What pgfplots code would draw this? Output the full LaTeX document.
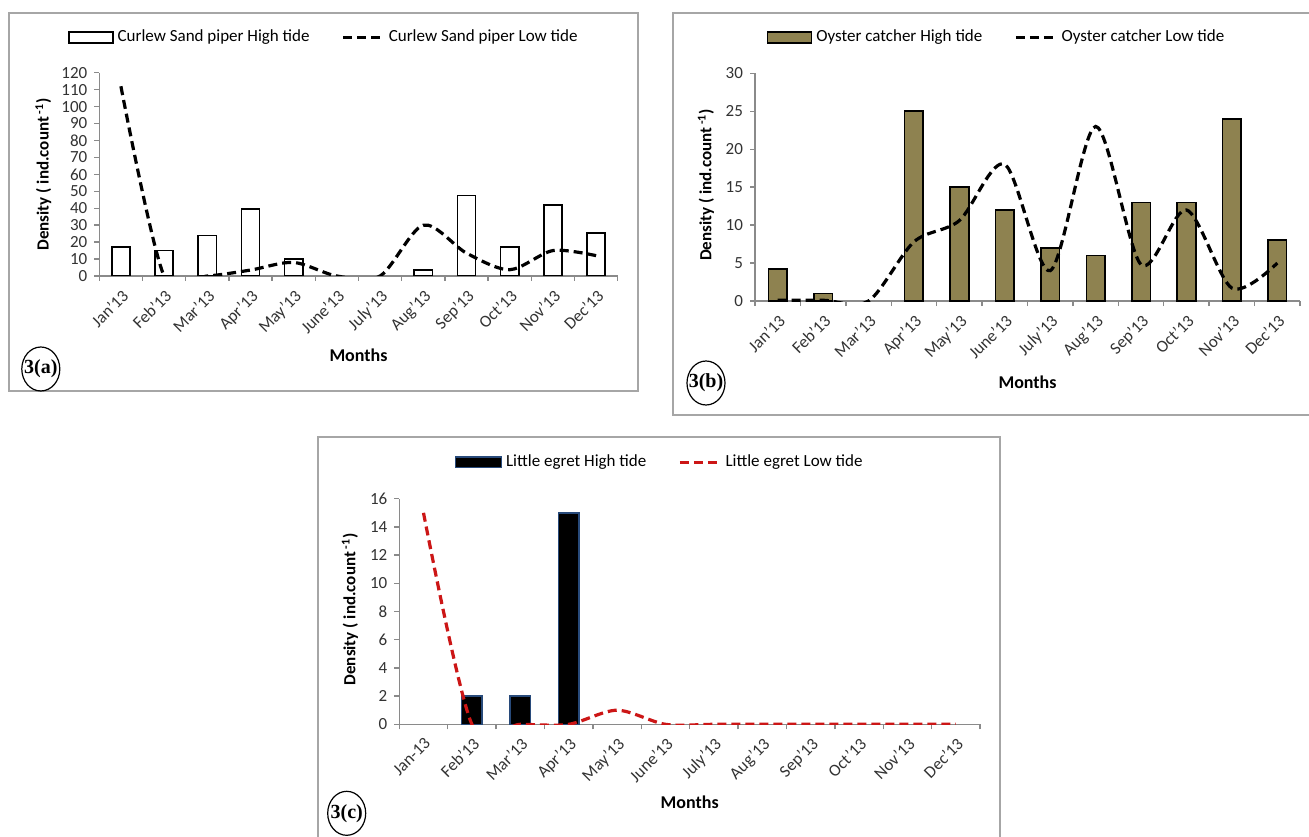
\documentclass[border=0pt]{standalone}
\usepackage{pgfplots}
\pgfplotsset{compat=1.18}
\usepackage{fontspec}
\setmainfont{Carlito}
\newfontfamily\labelfont{Liberation Serif}
\definecolor{framegray}{HTML}{A6A6A6}
\definecolor{axgray}{HTML}{8A8A8A}
\definecolor{oliveb}{HTML}{8E8250}
\definecolor{egretred}{HTML}{CC1616}
\definecolor{egretblue}{HTML}{284A7A}
\pgfplotsset{
  panel/.style={
    scale only axis,
    anchor=south west,
    axis x line*=bottom,
    axis y line*=left,
    axis line style={axgray, line width=0.7pt, -},
    xmin=-0.5, xmax=11.5,
    ymin=0,
    xtick={-0.5,0.5,...,11.5},
    x tick label as interval,
    tick align=outside,
    major tick length=2.5pt,
    tick style={axgray, line width=0.7pt},
    /pgf/number format/assume math mode=true,
    yticklabel style={font=\fontsize{8.5}{10}\selectfont, text=black!80},
    xticklabel style={font=\fontsize{8.5}{10}\selectfont, text=black!80, rotate=45, anchor=north east, inner sep=2.5pt},
    xlabel={Months},
    ylabel={Density ( ind.count\,\textsuperscript{-1})},
    xlabel style={font=\bfseries\fontsize{9}{11}\selectfont, anchor=center},
    ylabel style={font=\bfseries\fontsize{8.5}{10}\selectfont, anchor=center},
    legend columns=2,
    legend cell align=left,
    legend style={draw=none, fill=none, anchor=center, font=\fontsize{8.5}{10}\selectfont, /tikz/every even column/.append style={column sep=14pt}},
  },
}
\begin{document}
\begin{tikzpicture}
\path[use as bounding box, fill=white] (0pt,0pt) rectangle (654.5pt,418pt);
% frames
\draw[framegray, line width=1pt] (4.65pt,222.65pt) rectangle (318.85pt,411.65pt);
\draw[framegray, line width=1pt] (336.65pt,210.5pt) rectangle (662pt,411.65pt);
\draw[framegray, line width=1pt] (159.15pt,-5pt) rectangle (500pt,199.35pt);

% ---------- 3(a)
\begin{axis}[panel, at={(49.65pt,280pt)}, width=259.2pt, height=101.65pt,
  ymax=120, ytick={0,10,...,120},
  xticklabels={Jan'13,Feb'13,Mar'13,Apr'13,May'13,June'13,July'13,Aug'13,Sep'13,Oct'13,Nov'13,Dec'13,},
  xlabel style={at={(axis description cs:0.5,-0.39)}},
  ylabel style={at={(axis description cs:-0.108,0.5)}},
  legend style={at={(axis description cs:0.435,1.173)}}]
\addplot[ybar, bar width=0.42, fill=white, draw=black, line width=0.8pt,
  legend image code/.code={\draw[fill=white,draw=black,line width=0.8pt] (0pt,-2.7pt) rectangle (22pt,2.7pt);}]
  coordinates {(0,17) (1,15) (2,24) (3,39.5) (4,10) (7,3.5) (8,47.5) (9,17) (10,42) (11,25.5)};
\addlegendentry{Curlew Sand piper High tide}
\addplot[smooth, black, line width=1.6pt, dash pattern=on 4.5pt off 2.5pt,
  legend image code/.code={\draw[black,line width=1.6pt,dash pattern=on 4.5pt off 2.5pt] (0pt,0pt)--(20pt,0pt);}]
  coordinates {(0,112) (1,0) (2,0) (3,3.5) (4,8) (5,0) (6,0) (7,30) (8,13.5) (9,3.7) (10,15) (11,12)};
\addlegendentry{Curlew Sand piper Low tide}
\end{axis}

% ---------- 3(b)
\begin{axis}[panel, at={(377.5pt,267.5pt)}, width=272.5pt, height=113.85pt,
  ymax=30, ytick={0,5,...,30},
  xticklabels={Jan'13,Feb'13,Mar'13,Apr'13,May'13,June'13,July'13,Aug'13,Sep'13,Oct'13,Nov'13,Dec'13,},
  xlabel style={at={(axis description cs:0.5,-0.356)}},
  ylabel style={at={(axis description cs:-0.09,0.51)}},
  legend style={at={(axis description cs:0.445,1.157)}}]
\addplot[ybar, bar width=0.41, fill=oliveb, draw=black, line width=0.8pt,
  legend image code/.code={\draw[fill=oliveb,draw=black,line width=0.8pt] (0pt,-2.7pt) rectangle (22pt,2.7pt);}]
  coordinates {(0,4.2) (1,1) (3,25) (4,15) (5,12) (6,7) (7,6) (8,13) (9,13) (10,24) (11,8)};
\addlegendentry{Oyster catcher High tide}
\addplot[smooth, black, line width=1.6pt, dash pattern=on 4.5pt off 2.5pt,
  legend image code/.code={\draw[black,line width=1.6pt,dash pattern=on 4.5pt off 2.5pt] (0pt,0pt)--(20pt,0pt);}]
  coordinates {(0,0.1) (1,0.1) (2,0) (3,7.8) (4,10.6) (5,18) (6,4) (7,23) (8,4.8) (9,12) (10,1.7) (11,5)};
\addlegendentry{Oyster catcher Low tide}
\end{axis}

% ---------- 3(c)
\begin{axis}[panel, at={(199.65pt,55.85pt)}, width=290.35pt, height=112.8pt,
  ymax=16, ytick={0,2,...,16},
  xticklabels={Jan-13,Feb'13,Mar'13,Apr'13,May'13,June'13,July'13,Aug'13,Sep'13,Oct'13,Nov'13,Dec'13,},
  xlabel style={at={(axis description cs:0.5,-0.345)}},
  ylabel style={at={(axis description cs:-0.085,0.51)}},
  legend style={at={(axis description cs:0.45,1.161)}}]
\addplot[ybar, bar width=0.42, fill=black, draw=egretblue, line width=0.7pt,
  legend image code/.code={\draw[fill=black,draw=egretblue,line width=0.7pt] (0pt,-2.7pt) rectangle (23pt,2.7pt);}]
  coordinates {(1,2) (2,2) (3,15)};
\addlegendentry{Little egret High tide}
\addplot[smooth, egretred, line width=1.6pt, dash pattern=on 4.5pt off 2.5pt,
  legend image code/.code={\draw[egretred,line width=1.6pt,dash pattern=on 4.5pt off 2.5pt] (0pt,0pt)--(20pt,0pt);}]
  coordinates {(0,15) (1,0) (2,0) (3,0) (4,1) (5,0) (6,0) (7,0) (8,0) (9,0) (10,0) (11,0)};
\addlegendentry{Little egret Low tide}
\end{axis}

% panel tags
\draw[black, line width=0.6pt] (20.4pt,233.5pt) ellipse (9.5pt and 11pt);
\node[font=\labelfont\bfseries\fontsize{10}{12}\selectfont, inner sep=0pt] at (20.4pt,233.5pt) {3(a)};
\draw[black, line width=0.6pt] (353pt,226.5pt) ellipse (9.5pt and 11pt);
\node[font=\labelfont\bfseries\fontsize{10}{12}\selectfont, inner sep=0pt] at (353pt,226.5pt) {3(b)};
\draw[black, line width=0.6pt] (173.35pt,11.35pt) ellipse (9.5pt and 11pt);
\node[font=\labelfont\bfseries\fontsize{10}{12}\selectfont, inner sep=0pt] at (173.35pt,11.35pt) {3(c)};
\end{tikzpicture}
\end{document}
